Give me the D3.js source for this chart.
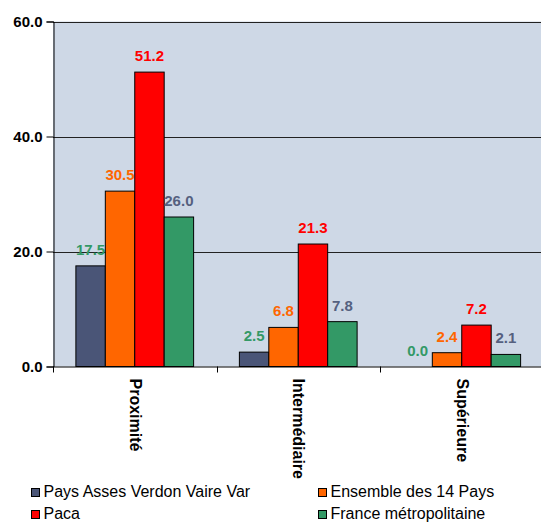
<!DOCTYPE html>
<html>
<head>
<meta charset="utf-8">
<script src="https://cdn.jsdelivr.net/npm/d3@7"></script>
<style>
  body { margin: 0; background: #fff; }
  svg { display: block; font-family: "Liberation Sans", Arial, sans-serif; }
</style>
</head>
<body>
<svg id="chart" width="541" height="522"></svg>
<script>
// Niveaux de services (catégories) et séries comparées
const categories = ["Proximité", "Intermédiaire", "Supérieure"];
const seriesNames = ["Pays Asses Verdon Vaire Var", "Ensemble des 14 Pays", "Paca", "France métropolitaine"];
const paysAsses = [17.5, 2.5, 0.0];
const ensemble14 = [30.5, 6.8, 2.4];
const paca = [51.2, 21.3, 7.2];
const franceMetro = [26.0, 7.8, 2.1];
const yTicks = [0, 20, 40, 60];

(function () {
const seriesValues = [paysAsses, ensemble14, paca, franceMetro];
const barColors = ["#4A5577", "#FF6600", "#FF0000", "#339966"];
const labelColors = ["#339966", "#FF6600", "#FF0000", "#55607F"];

const svg = d3.select("#chart");
const mLeft = 53, mRight = 543.5, mTop = 21.5, mBottom = 366.5;

const x0 = d3.scaleBand().domain(categories).range([mLeft, mRight])
  .paddingInner(0.28).paddingOuter(0.14);
const x1 = d3.scaleBand().domain(d3.range(seriesNames.length)).range([0, x0.bandwidth()]);
const y = d3.scaleLinear().domain([0, 60]).range([mBottom, mTop]);

// Zone de tracé
svg.append("rect").attr("x", mLeft).attr("y", y(60)).attr("width", 560 - mLeft)
  .attr("height", y(0) - y(60)).attr("fill", "#CED8E6");

// Quadrillage horizontal
svg.append("g").selectAll("line").data(yTicks.filter(d => d > 0)).join("line")
  .attr("x1", mLeft).attr("x2", 560)
  .attr("y1", d => Math.round(y(d)) + 0.5).attr("y2", d => Math.round(y(d)) + 0.5)
  .attr("stroke", "#222").attr("stroke-width", 1);

// Axe vertical
const yAxis = d3.axisLeft(y).tickValues(yTicks).tickFormat(d3.format(".1f")).tickSize(7).tickPadding(4);
const gy = svg.append("g").attr("transform", `translate(${mLeft + 0.5},0)`).call(yAxis);
gy.select(".domain").attr("stroke", "#000");
gy.selectAll(".tick line").attr("stroke", "#000");
gy.selectAll(".tick text").attr("fill", "#000").attr("font-size", 15).attr("font-weight", "bold")
  .attr("font-family", "Liberation Sans, Arial, sans-serif");

// Barres et étiquettes de valeurs, série par série
seriesValues.forEach((vals, si) => {
  const g = svg.append("g");
  g.selectAll("rect").data(vals).join("rect")
    .attr("x", (d, i) => x0(categories[i]) + x1(si))
    .attr("y", d => y(d))
    .attr("width", x1.bandwidth())
    .attr("height", d => y(0) - y(d))
    .attr("fill", barColors[si]).attr("stroke", "#000").attr("stroke-width", 1);
  g.selectAll("text").data(vals).join("text")
    .attr("x", (d, i) => x0(categories[i]) + x1(si) + x1.bandwidth() / 2)
    .attr("y", d => y(d) - 11)
    .attr("text-anchor", "middle")
    .attr("font-size", 15).attr("font-weight", "bold")
    .attr("fill", labelColors[si])
    .text(d => d3.format(".1f")(d));
});

// Axe horizontal avec graduations entre les catégories
svg.append("line").attr("x1", mLeft).attr("x2", 560)
  .attr("y1", mBottom + 0.5).attr("y2", mBottom + 0.5).attr("stroke", "#000");
const step = x0.step();
const boundaries = categories.map(c => x0(c) - step * x0.paddingInner() / 2);
svg.append("g").selectAll("line").data(boundaries).join("line")
  .attr("x1", d => Math.round(d) + 0.5).attr("x2", d => Math.round(d) + 0.5)
  .attr("y1", mBottom).attr("y2", mBottom + 6).attr("stroke", "#000");

// Libellés de catégories, verticaux
svg.append("g").selectAll("text").data(categories).join("text")
  .attr("transform", d => `translate(${x0(d) + x0.bandwidth() / 2 - 5},${mBottom + 12}) rotate(90)`)
  .attr("font-size", 16).attr("font-weight", "bold").attr("fill", "#000")
  .text(d => d);

// Légende
const legendPos = [[31, 497], [318, 497], [31, 519], [318, 519]];
const lg = svg.append("g").selectAll("g").data(seriesNames).join("g")
  .attr("transform", (d, i) => `translate(${legendPos[i][0]},${legendPos[i][1]})`);
lg.append("rect").attr("x", 0.5).attr("y", -8.5).attr("width", 8).attr("height", 8)
  .attr("fill", (d, i) => barColors[i]).attr("stroke", "#000");
lg.append("text").attr("x", 12.5).attr("y", 0).attr("font-size", 16).attr("fill", "#000").text(d => d);
})();
</script>
</body>
</html>
